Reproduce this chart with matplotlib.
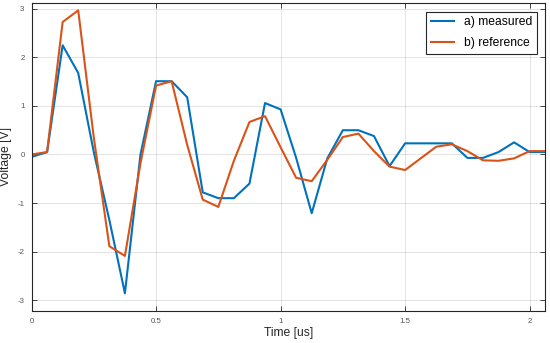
import matplotlib
matplotlib.use('Agg')
import matplotlib.pyplot as plt
import numpy as np

# sample times [us], step 1/16 us
time_us = np.arange(34) * 0.0625

measured = [-0.05, 0.05, 2.25, 1.68, 0.05, -1.35, -2.86, 0.0,
            1.51, 1.51, 1.18, -0.78, -0.90, -0.90, -0.60, 1.06,
            0.93, -0.07, -1.21, -0.08, 0.50, 0.50, 0.38, -0.24,
            0.23, 0.23, 0.23, 0.23, -0.07, -0.07, 0.05, 0.25,
            0.05, 0.05]

reference = [0.0, 0.05, 2.73, 2.97, 0.35, -1.89, -2.09, -0.18,
             1.42, 1.51, 0.20, -0.93, -1.08, -0.13, 0.67, 0.79,
             0.15, -0.48, -0.55, -0.11, 0.36, 0.43, 0.07, -0.25,
             -0.32, -0.08, 0.16, 0.21, 0.07, -0.12, -0.13, -0.08,
             0.07, 0.07]

labels = ['a) measured', 'b) reference']

plt.rcParams['font.family'] = ['Liberation Sans', 'DejaVu Sans']
plt.rcParams['axes.unicode_minus'] = False
axcol = '#262626'

fig = plt.figure(figsize=(5.5, 3.43), dpi=100)
ax = fig.add_axes([0.0573, 0.094, 0.934, 0.897])

ax.plot(time_us, measured, color='#0072BD', lw=1.5, label=labels[0])
ax.plot(time_us, reference, color='#D95319', lw=1.5, label=labels[1])

ax.set_xlim(0, 2.0625)
ax.set_ylim(-3.22, 3.12)
ax.set_xticks([0, 0.5, 1, 1.5, 2])
ax.set_xticklabels(['0', '0.5', '1', '1.5', '2'])
ax.set_yticks([-3, -2, -1, 0, 1, 2, 3])

ax.grid(True, color='#262626', alpha=0.15, lw=0.6)
ax.set_axisbelow(True)
ax.tick_params(direction='in', length=3.6, width=0.6, colors=axcol,
               labelsize=5.7, top=True, right=True, pad=5)
for t in ax.get_xticklabels() + ax.get_yticklabels():
    t.set_color('#555555')
for s in ax.spines.values():
    s.set_color(axcol)
    s.set_linewidth(0.8)

ax.set_xlabel('Time [us]', fontsize=8.7, color=axcol, labelpad=2)
ax.set_ylabel('Voltage [V]', fontsize=8.7, color=axcol, labelpad=4)

leg = ax.legend(loc='upper right', fontsize=8.7, handlelength=1.9,
                labelspacing=0.75, borderaxespad=0.7, fancybox=False,
                framealpha=1, edgecolor=axcol)
leg.get_frame().set_linewidth(0.8)

fig.savefig('out.png', dpi=100)
